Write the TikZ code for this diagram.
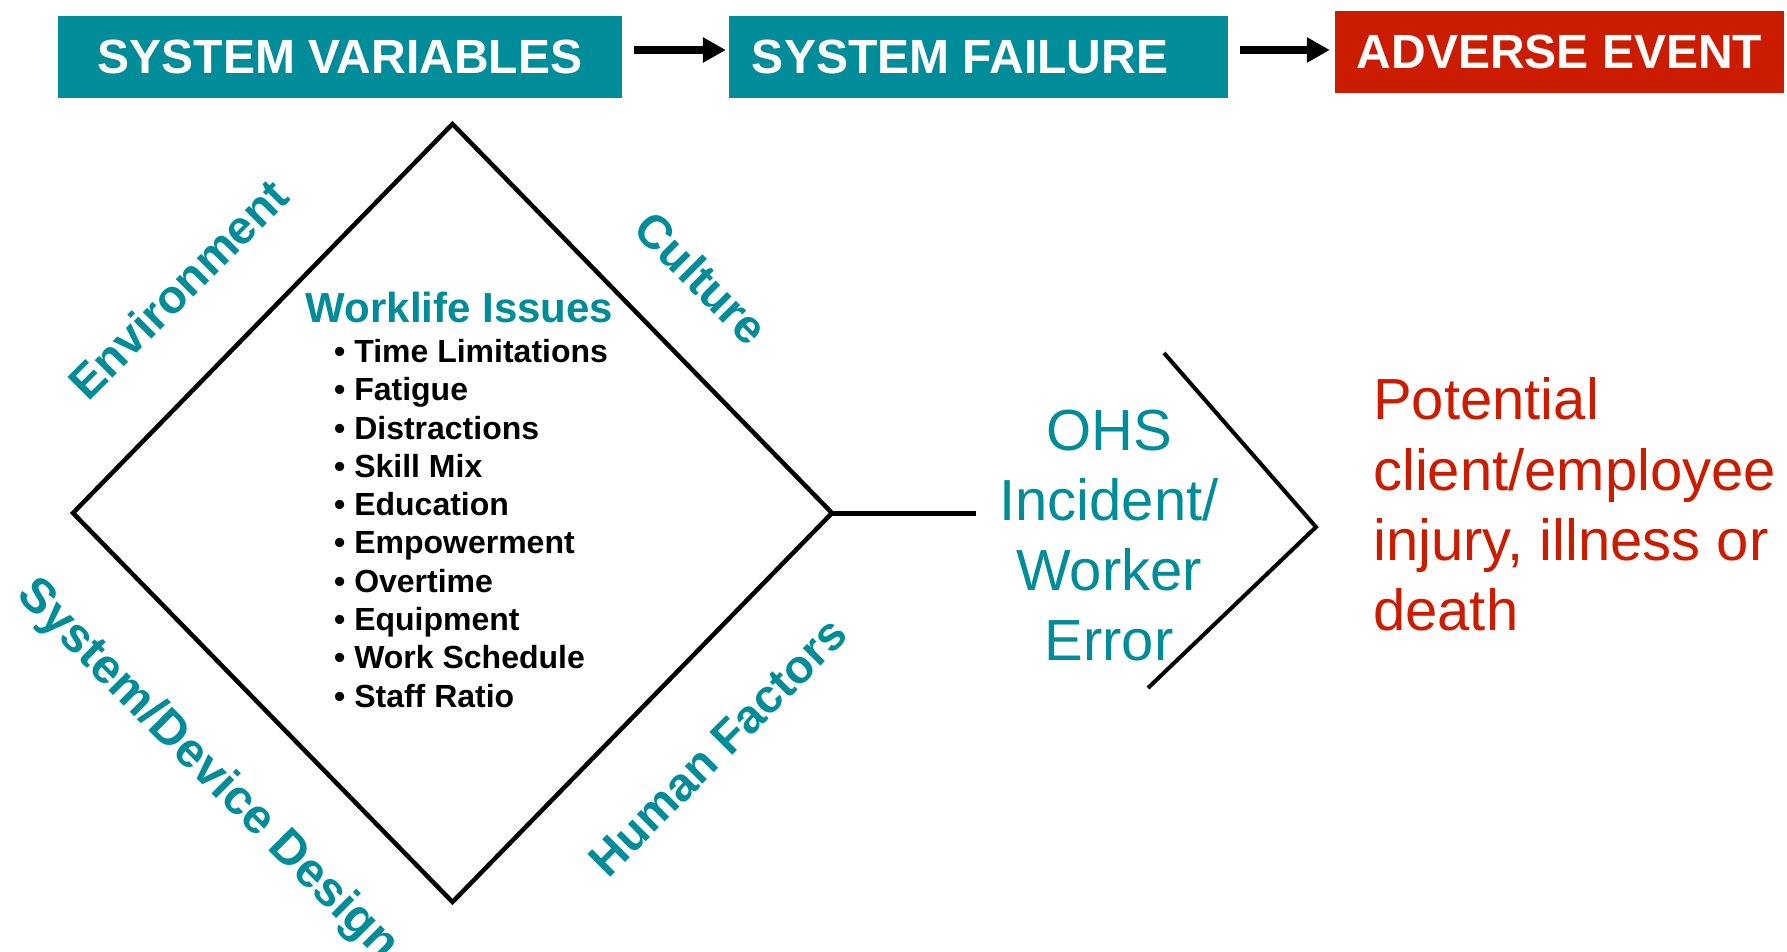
\documentclass[tikz,border=0pt]{standalone}
\usepackage{fontspec}
\setmainfont{Liberation Sans}
\usetikzlibrary{arrows.meta,calc}
\definecolor{ohsteal}{HTML}{008C99}
\definecolor{ohsred}{HTML}{CC1C00}
\begin{document}
\begin{tikzpicture}[x=1pt,y=-1pt,
  header/.style={fill=#1, text=white, font=\bfseries\fontsize{48}{56}\selectfont,
    inner sep=0pt, minimum height=82pt},
  flow/.style={line width=8pt, -{Triangle[length=23pt,width=24pt]}, shorten <=12pt},
  side/.style={text=ohsteal, font=\bfseries\fontsize{47}{56}\selectfont, inner sep=0pt},
  outline/.style={line width=4.5pt, line join=miter}
]
\path[use as bounding box] (0,0) rectangle (1787,951);

% header chain
\node[header=ohsteal, minimum width=564pt] (sv) at (340,56.5) {SYSTEM VARIABLES};
\node[header=ohsteal, minimum width=499pt] (sf) at (978.5,56.5) {SYSTEM FAILURE\hspace*{37pt}};
\node[header=ohsred, minimum width=449pt] (ae) at (1559.5,51.5) {ADVERSE EVENT};

\coordinate (a1) at ([yshift=6.5pt]sv.east);
\coordinate (a2) at ([yshift=6.5pt]sf.east);
\draw[flow, shorten >=3pt] (a1) -- (a1 -| sf.west);
\draw[flow, shorten >=5pt] (a2) -- (a2 -| ae.west);

% diamond of contributing factors
\coordinate (dT) at (452.5,124);
\coordinate (dR) at (832,513);
\coordinate (dB) at (452.5,902);
\coordinate (dL) at (73,513);
\draw[outline] (dT) -- (dR) -- (dB) -- (dL) -- cycle;

\node[side, rotate=45]  (env) at (178,289) {Environment};
\node[side, rotate=-45] (cul) at (702,278) {Culture};
\node[side, rotate=45]  (hf)  at (718,747) {Human Factors};
\node[side, rotate=-45, font=\bfseries\fontsize{48.5}{56}\selectfont] (sdd) at (207,771) {System/Device Design};

\node[text=ohsteal, font=\bfseries\fontsize{42}{50}\selectfont, inner sep=0pt, anchor=base]
  (wl) at (459.5,322) {Worklife Issues};
\node[font=\bfseries\fontsize{32}{38.3}\selectfont, align=left, inner sep=0pt, anchor=north west]
  (issues) at (334,339) {• Time Limitations\\• Fatigue\\• Distractions\\• Skill Mix\\• Education\\%
  • Empowerment\\• Overtime\\• Equipment\\• Work Schedule\\• Staff Ratio};

% incident and outcome
\node[text=ohsteal, font=\fontsize{58}{70}\selectfont, align=center, inner sep=0pt, anchor=north]
  (ohs) at (1109,410) {OHS\\Incident/\\Worker\\Error};
\coordinate (lnEnd) at (976,513);
\draw[line width=5pt] (dR) -- (lnEnd);

\coordinate (c1) at (1164,353);
\coordinate (c2) at (1316,527);
\coordinate (c3) at (1148,688);
\draw[outline, line width=4pt] (c1) -- (c2) -- (c3);

\node[text=ohsred, font=\fontsize{58}{70.3}\selectfont, align=left, inner sep=0pt, anchor=north west]
  (harm) at (1373,377.5) {Potential\\client/employee\\injury, illness or\\death};
\end{tikzpicture}
\end{document}
